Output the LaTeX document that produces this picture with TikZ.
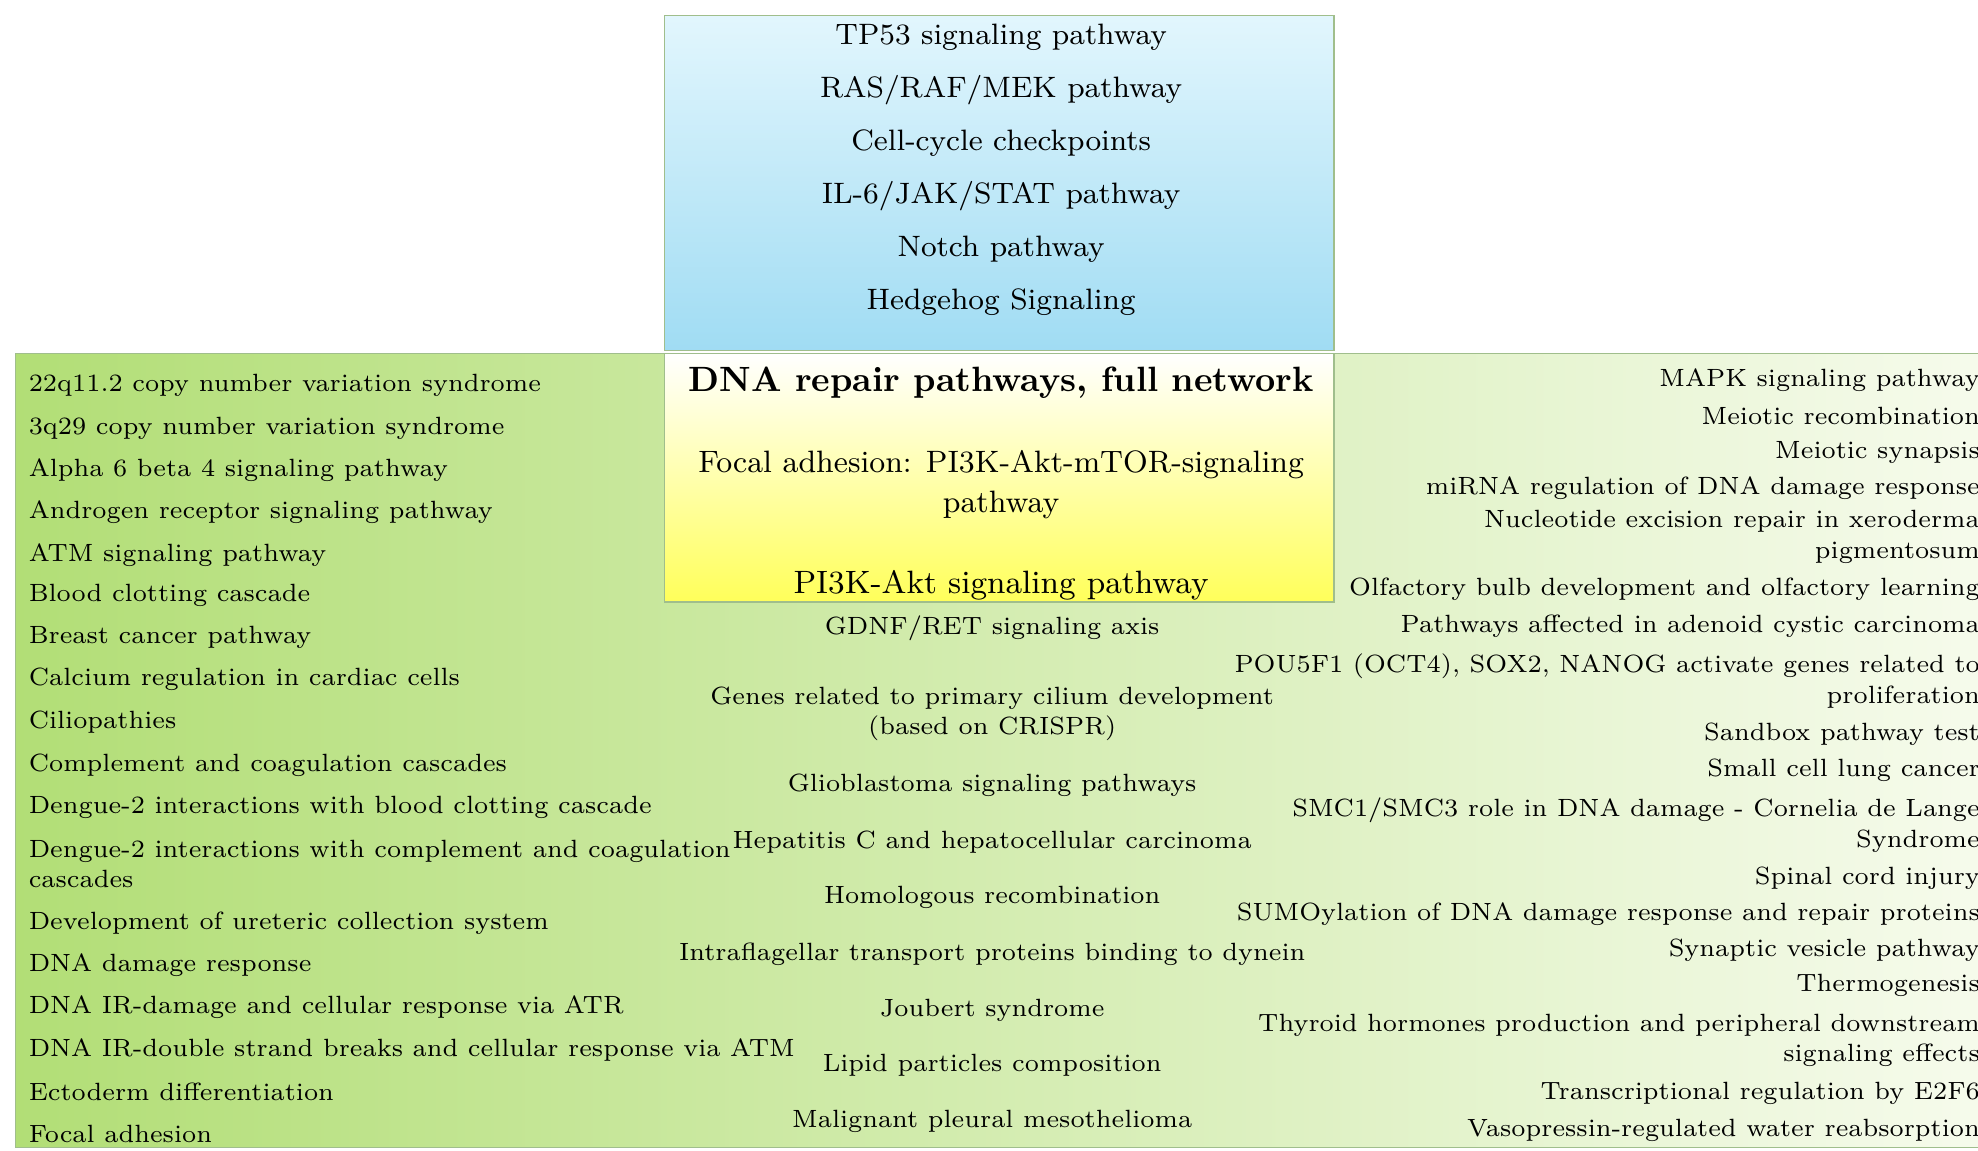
\documentclass[tikz,border=0pt]{standalone}
\definecolor{skytop}{RGB}{226,246,253}
\definecolor{skybot}{RGB}{160,220,243}
\definecolor{leafL}{RGB}{178,222,118}
\definecolor{leafR}{RGB}{246,251,236}
\definecolor{sunbot}{RGB}{255,255,90}
\definecolor{edge}{RGB}{160,190,140}
\usetikzlibrary{positioning}
\tikzset{
  ritem/.style={inner sep=0pt,font=\fontsize{7.1}{8.6}\selectfont,align=right,anchor=east},
  litem/.style={inner sep=0pt,font=\fontsize{7.1}{8.6}\selectfont,anchor=west},
  citem/.style={inner sep=0pt,font=\fontsize{7.1}{8.6}\selectfont,align=center},
  top/.style={inner sep=0pt,font=\fontsize{8.4}{10}\selectfont},
}
\begin{document}
\begin{tikzpicture}[x=0.012753cm,y=-0.012753cm]
    \useasboundingbox (0,0) rectangle (1551,902);
    % boxes
    \shade[left color=leafL,right color=leafR,draw=edge] (12,277) rectangle (1556,900);
    \shade[top color=skytop,bottom color=skybot,draw=edge] (521,12) rectangle (1046,275);
    \shade[top color=white,bottom color=sunbot,draw=edge] (521,277) rectangle (1046,472);

    % top box
    \foreach \t [count=\i] in {TP53 signaling pathway,RAS/RAF/MEK pathway,Cell-cycle checkpoints,IL-6/JAK/STAT pathway,Notch pathway,Hedgehog Signaling}
        \node[top] (top\i) at (785,{29+41.6*(\i-1)}) {\t};

    % centre box
    \node[inner sep=0pt,font=\fontsize{10}{12}\selectfont\bfseries] (title) at (785,300) {DNA repair pathways, full network};
    \node[top,align=center,font=\fontsize{8.8}{11.5}\selectfont] (focal) at (785,380) {Focal adhesion: PI3K-Akt-mTOR-signaling\\pathway};
    \node[top,font=\fontsize{9.2}{11}\selectfont] (pik) at (785,459) {PI3K-Akt signaling pathway};

    % left column
    \foreach \t/\y [count=\i] in {22q11.2 copy number variation syndrome/302,3q29 copy number variation syndrome/336,Alpha 6 beta 4 signaling pathway/369,Androgen receptor signaling pathway/402,ATM signaling pathway/435,Blood clotting cascade/467,Breast cancer pathway/500,Calcium regulation in cardiac cells/533,Ciliopathies/566,Complement and coagulation cascades/600,Dengue-2 interactions with blood clotting cascade/633,Development of ureteric collection system/724,DNA damage response/757,DNA IR-damage and cellular response via ATR/790,DNA IR-double strand breaks and cellular response via ATM/823,Ectoderm differentiation/856,Focal adhesion/889}
        \node[litem] (left\i) at (22,\y) {\t};
    \node[litem,align=left,anchor=north west] (leftD) at (22,658) {Dengue-2 interactions with complement and coagulation\\cascades};

    % centre column
    \foreach \t/\y [count=\i] in {{GDNF/RET signaling axis}/493,Genes related to primary cilium development\\(based on CRISPR)/560,Glioblastoma signaling pathways/616,Hepatitis C and hepatocellular carcinoma/660,Homologous recombination/704,Intraflagellar transport proteins binding to dynein/748,Joubert syndrome/792,Lipid particles composition/835,Malignant pleural mesothelioma/879}
        \node[citem] (mid\i) at (778,\y) {\t};

    % right column
    \foreach \t/\y [count=\i] in {MAPK signaling pathway/298,Meiotic recombination/326,Meiotic synapsis/355,miRNA regulation of DNA damage response/383,Nucleotide excision repair in xeroderma\\pigmentosum/421,Olfactory bulb development and olfactory learning/462,Pathways affected in adenoid cystic carcinoma/491,{POU5F1 (OCT4), SOX2, NANOG activate genes related to\\proliferation}/534,Sandbox pathway test/576,Small cell lung cancer/604,{SMC1/SMC3 role in DNA damage - Cornelia de Lange\\Syndrome}/647,Spinal cord injury/689,SUMOylation of DNA damage response and repair proteins/717,Synaptic vesicle pathway/745,Thermogenesis/773,Thyroid hormones production and peripheral downstream\\signaling effects/816,Transcriptional regulation by E2F6/857,Vasopressin-regulated water reabsorption/886}
        \node[ritem] (right\i) at (1553,\y) {\t};
\end{tikzpicture}
\end{document}
